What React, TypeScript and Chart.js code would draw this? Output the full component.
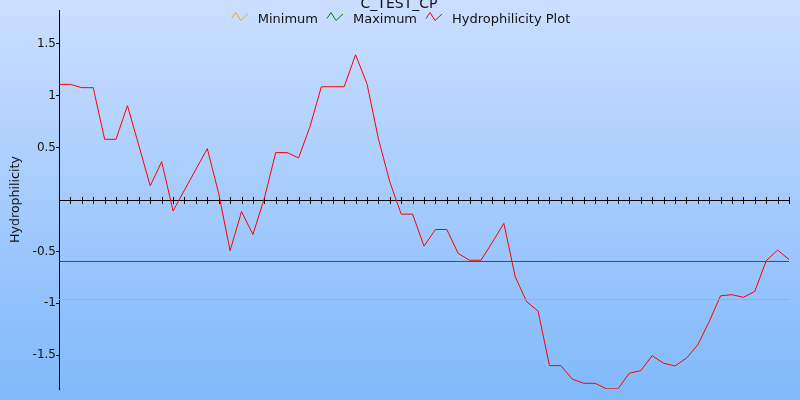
import React, { useEffect, useRef } from 'react';
import { Chart, registerables } from 'chart.js';

Chart.register(...registerables);

const titleText = 'C_TEST_CP';
const yAxisTitle = 'Hydrophilicity';
const seriesLabels = ['Minimum', 'Maximum', 'Hydrophilicity Plot'];
const seriesColors = ['#f0a52a', '#0a7a1a', '#ff0000'];
const legendIconColors = ['#ffa500', '#008000', '#ff0000'];

const hydrophilicity = [
  1.109, 1.109, 1.077, 1.077, 0.58, 0.58, 0.904, 0.52, 0.131, 0.365,
  -0.11, 0.09, 0.29, 0.49, 0.058, -0.494, -0.116, -0.337, 0.01, 0.452,
  0.452, 0.4, 0.7, 1.086, 1.086, 1.086, 1.394, 1.115, 0.586, 0.17,
  -0.141, -0.141, -0.449, -0.289, -0.289, -0.52, -0.585, -0.585, -0.41, -0.23,
  -0.744, -0.985, -1.074, -1.6, -1.6, -1.73, -1.77, -1.77, -1.824, -1.824,
  -1.673, -1.648, -1.504, -1.577, -1.603, -1.529, -1.4, -1.177, -0.927, -0.917,
  -0.942, -0.885, -0.59, -0.487, -0.577,
];
const minimumValue = -0.963;
const maximumValue = -0.597;
const yTickValues = [-1.5, -1, -0.5, 0.5, 1, 1.5];
const yLimit = 1.825;

const FONT = '"DejaVu Sans", Verdana, sans-serif';

const backgroundPlugin = {
  id: 'bgGradient',
  beforeDraw(chart: any) {
    const { ctx, width, height } = chart;
    const g = ctx.createLinearGradient(0, 0, 0, height);
    g.addColorStop(0, '#cbdeff');
    g.addColorStop(1, '#7fb9fa');
    ctx.save();
    ctx.fillStyle = g;
    ctx.fillRect(0, 0, width, height);
    ctx.restore();
  },
};

const zeroAxisPlugin = {
  id: 'zeroAxis',
  beforeDatasetsDraw(chart: any) {
    const { ctx, chartArea, scales } = chart;
    const y = Math.round(scales.y.getPixelForValue(0)) + 0.5;
    ctx.save();
    ctx.strokeStyle = '#000';
    ctx.lineWidth = 1;
    ctx.beginPath();
    ctx.moveTo(chartArea.left, y);
    ctx.lineTo(chartArea.right, y);
    for (let i = 1; i < hydrophilicity.length; i++) {
      const x = Math.round(scales.x.getPixelForValue(i)) + 0.5;
      ctx.moveTo(x, y - 3.5);
      ctx.lineTo(x, y + 3.5);
    }
    ctx.stroke();
    ctx.restore();
  },
};

const titleLegendPlugin = {
  id: 'titleLegend',
  afterDraw(chart: any) {
    const { ctx } = chart;
    ctx.save();
    ctx.fillStyle = '#111';
    ctx.font = `14px ${FONT}`;
    ctx.textAlign = 'center';
    ctx.textBaseline = 'alphabetic';
    ctx.fillText(titleText, 399, 7.5);

    ctx.font = `13px ${FONT}`;
    ctx.textAlign = 'left';
    const iconW = 16;
    const gapIcon = 10;
    const gapItem = 9;
    const widths = seriesLabels.map((l) => ctx.measureText(l).width);
    const total = widths.reduce((a, w) => a + iconW + gapIcon + w, 0) + gapItem * (seriesLabels.length - 1);
    let x = 401 - total / 2;
    seriesLabels.forEach((label, i) => {
      ctx.strokeStyle = legendIconColors[i];
      ctx.lineWidth = 1;
      ctx.beginPath();
      ctx.moveTo(x, 18.5);
      ctx.lineTo(x + 4, 12.5);
      ctx.lineTo(x + 9, 20.5);
      ctx.lineTo(x + 16, 14);
      ctx.stroke();
      ctx.fillStyle = '#111';
      ctx.fillText(label, x + iconW + gapIcon, 22.5);
      x += iconW + gapIcon + widths[i] + gapItem;
    });
    ctx.restore();
  },
};

export default function App() {
  const canvasRef = useRef<HTMLCanvasElement | null>(null);

  useEffect(() => {
    const canvas = canvasRef.current;
    if (!canvas) return;
    const lastIndex = hydrophilicity.length - 1;
    const chart = new Chart(canvas, {
      type: 'line',
      data: {
        datasets: [
          {
            label: seriesLabels[0],
            data: [
              { x: 0, y: minimumValue },
              { x: lastIndex, y: minimumValue },
            ],
            borderColor: seriesColors[0],
            borderWidth: 1,
            pointRadius: 0,
            fill: false,
          },
          {
            label: seriesLabels[1],
            data: [
              { x: 0, y: maximumValue },
              { x: lastIndex, y: maximumValue },
            ],
            borderColor: seriesColors[1],
            borderWidth: 1,
            pointRadius: 0,
            fill: false,
          },
          {
            label: seriesLabels[2],
            data: hydrophilicity.map((v, i) => ({ x: i, y: v })),
            borderColor: seriesColors[2],
            borderWidth: 1,
            pointRadius: 0,
            fill: false,
            tension: 0,
          },
        ],
      },
      options: {
        responsive: false,
        animation: false,
        devicePixelRatio: 1,
        layout: { padding: { top: 10, bottom: 11, right: 11, left: 0 } },
        plugins: {
          legend: { display: false },
          title: { display: false },
          tooltip: { enabled: false },
        },
        scales: {
          x: {
            type: 'linear',
            min: 0,
            max: lastIndex,
            display: false,
          },
          y: {
            type: 'linear',
            min: -yLimit,
            max: yLimit,
            afterBuildTicks: (scale: any) => {
              scale.ticks = yTickValues.map((v) => ({ value: v }));
            },
            afterFit: (scale: any) => {
              scale.width = 59;
            },
            ticks: {
              color: '#111',
              font: { family: FONT, size: 12 },
              padding: 0,
              autoSkip: false,
              callback: (v: any) => String(v),
            },
            grid: {
              drawOnChartArea: false,
              drawTicks: true,
              tickLength: 3,
              color: '#000',
            },
            border: { display: true, color: '#000', width: 1 },
            title: {
              display: true,
              text: yAxisTitle,
              color: '#111',
              font: { family: FONT, size: 12.6 },
              padding: { top: 8, bottom: 0 },
            },
          },
        },
      },
      plugins: [backgroundPlugin, zeroAxisPlugin, titleLegendPlugin],
    } as any);
    return () => chart.destroy();
  }, []);

  return (
    <div style={{ position: 'absolute', left: 0, top: 0, width: 800, height: 400 }}>
      <canvas ref={canvasRef} width={800} height={400} style={{ display: 'block' }} />
    </div>
  );
}
